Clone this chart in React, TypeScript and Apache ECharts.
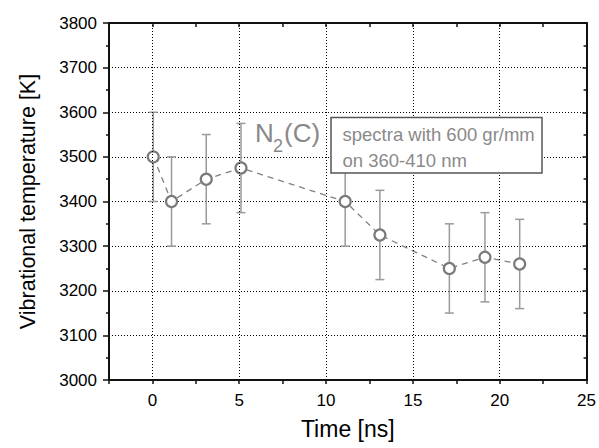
import React, { useEffect, useRef } from "react";
import * as echarts from "echarts";

// ---- data ----
const times = [0.05, 1.1, 3.1, 5.1, 11.1, 13.1, 17.1, 19.15, 21.15];
const temps = [3500, 3400, 3450, 3475, 3400, 3325, 3250, 3275, 3260];
const errors = [100, 100, 100, 100, 100, 100, 100, 100, 100];
const xTickLabels = ["0", "5", "10", "15", "20", "25"];
const xGridValues = [0, 5, 10, 15, 20];
const xMin = -2.5;
const xMax = 25;
const yMin = 3000;
const yMax = 3800;
const yStep = 100;
const labelTitle = "N";
const labelSub = "2";
const labelRest = "(C)";
const noteLines = ["spectra with 600 gr/mm", "on 360-410 nm"];

const FONT = "'Liberation Sans', Arial, Helvetica, sans-serif";

export default function App() {
  const ref = useRef<HTMLDivElement>(null);

  useEffect(() => {
    if (!ref.current) return;
    const chart = echarts.init(ref.current, undefined, { renderer: "svg" });

    const points = times.map((t, i) => [t, temps[i]]);
    const bars = times.map((t, i) => [t, temps[i] - errors[i], temps[i] + errors[i]]);

    const axisLine = { show: true, onZero: false, lineStyle: { color: "#111", width: 2 } };

    const option: any = {
      animation: false,
      backgroundColor: "#fff",
      grid: { left: 109, top: 23, right: 11, bottom: 68, containLabel: false },
      xAxis: [
        {
          type: "value",
          min: xMin,
          max: xMax,
          interval: 2.5,
          position: "bottom",
          axisLine,
          axisTick: { show: true, inside: false, length: 4, lineStyle: { color: "#111", width: 1.5 } },
          axisLabel: {
            margin: 12,
            color: "#000",
            fontSize: 17,
            fontFamily: FONT,
            formatter: (v: number) => (xTickLabels.includes(String(v)) ? String(v) : ""),
          },
          splitLine: { show: false },
          name: "Time [ns]",
          nameLocation: "middle",
          nameGap: 37,
          nameTextStyle: { fontSize: 23, color: "#000", fontFamily: FONT },
        },
        {
          type: "value",
          min: xMin,
          max: xMax,
          interval: 2.5,
          position: "top",
          axisLine,
          axisTick: { show: true, inside: true, length: 4, lineStyle: { color: "#111", width: 1.5 } },
          axisLabel: { show: false },
          splitLine: { show: false },
        },
      ],
      yAxis: [
        {
          type: "value",
          min: yMin,
          max: yMax,
          interval: yStep,
          position: "left",
          axisLine,
          axisTick: { show: true, inside: false, length: 6, lineStyle: { color: "#111", width: 1.5 } },
          minorTick: { show: true, splitNumber: 2, length: 3, lineStyle: { color: "#111", width: 1.5 } },
          axisLabel: {
            margin: 12,
            color: "#000",
            fontSize: 17,
            fontFamily: FONT,
            formatter: (v: number) => String(v),
          },
          splitLine: { show: true, lineStyle: { color: "#000", type: [1, 2], width: 1 } },
          name: "Vibrational temperature [K]",
          nameLocation: "middle",
          nameGap: 70,
          nameTextStyle: { fontSize: 21.5, color: "#000", fontFamily: FONT },
        },
        {
          type: "value",
          min: yMin,
          max: yMax,
          interval: yStep,
          position: "right",
          axisLine,
          axisTick: { show: true, inside: true, length: 4, lineStyle: { color: "#111", width: 1.5 } },
          minorTick: { show: true, splitNumber: 2, length: 3, lineStyle: { color: "#111", width: 1.5 } },
          axisLabel: { show: false },
          splitLine: { show: false },
        },
      ],
      series: [
        {
          name: "grid",
          type: "line",
          data: [],
          z: 1,
          silent: true,
          markLine: {
            silent: true,
            symbol: ["none", "none"],
            label: { show: false },
            lineStyle: { color: "#000", type: [1, 2], width: 1 },
            data: xGridValues.map((v) => ({ xAxis: v })),
          },
        },
        {
          name: "errors",
          type: "custom",
          z: 2,
          data: bars,
          encode: { x: 0, y: [1, 2] },
          renderItem: (params: any, api: any) => {
            const x = api.value(0);
            const lo = api.coord([x, api.value(1)]);
            const hi = api.coord([x, api.value(2)]);
            const cap = 4.5;
            const style = { stroke: "#9a9a9a", lineWidth: 1.5 };
            return {
              type: "group",
              children: [
                { type: "line", shape: { x1: lo[0], y1: lo[1], x2: hi[0], y2: hi[1] }, style },
                { type: "line", shape: { x1: lo[0] - cap, y1: lo[1], x2: lo[0] + cap, y2: lo[1] }, style },
                { type: "line", shape: { x1: hi[0] - cap, y1: hi[1], x2: hi[0] + cap, y2: hi[1] }, style },
              ],
            };
          },
        },
        {
          name: "Tvib",
          type: "line",
          z: 3,
          data: points,
          symbol: "circle",
          symbolSize: 11,
          itemStyle: { color: "#fff", borderColor: "#7a7a7a", borderWidth: 2.2 },
          lineStyle: { color: "#808080", width: 1.3, type: [6, 5] },
        },
      ],
      graphic: [
        {
          type: "text",
          x: 255,
          y: 132.5,
          style: { text: labelTitle, fontSize: 26, fontFamily: FONT, fill: "#888", verticalAlign: "middle", align: "left" },
        },
        {
          type: "text",
          x: 273,
          y: 146,
          style: { text: labelSub, fontSize: 18, fontFamily: FONT, fill: "#888", verticalAlign: "middle", align: "left" },
        },
        {
          type: "text",
          x: 284,
          y: 132.5,
          style: { text: labelRest, fontSize: 26, fontFamily: FONT, fill: "#888", verticalAlign: "middle", align: "left" },
        },
        {
          type: "rect",
          shape: { x: 331, y: 117.5, width: 211, height: 55.5 },
          style: { fill: "#fff", stroke: "#555", lineWidth: 1.5 },
          z: 10,
        },
        {
          type: "text",
          x: 342.5,
          y: 134.5,
          z: 11,
          style: { text: noteLines[0], fontSize: 18.5, fontFamily: FONT, fill: "#8a8a8a", verticalAlign: "middle", align: "left" },
        },
        {
          type: "text",
          x: 342.5,
          y: 160.5,
          z: 11,
          style: { text: noteLines[1], fontSize: 18.5, fontFamily: FONT, fill: "#8a8a8a", verticalAlign: "middle", align: "left" },
        },
      ],
    };

    chart.setOption(option);
    return () => chart.dispose();
  }, []);

  return (
    <div
      ref={ref}
      style={{ position: "absolute", left: 0, top: 0, width: 599, height: 448, background: "#fff" }}
    />
  );
}
